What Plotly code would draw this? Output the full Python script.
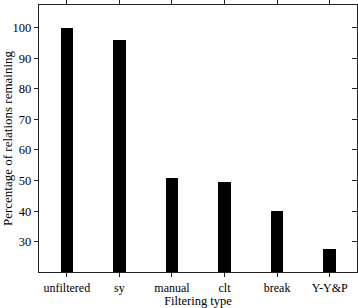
import plotly.graph_objects as go

categories = ["unfiltered", "sy", "manual", "clt", "break", "Y-Y&P"]
values = [100.0, 95.8, 50.7, 49.4, 40.0, 27.5]
y_ticks = [30, 40, 50, 60, 70, 80, 90, 100]

FONT = "Liberation Serif"
AX = "#222222"

fig = go.Figure()
fig.add_trace(go.Bar(x=categories, y=values, marker=dict(color="black", line=dict(width=0)),
                     width=0.24, showlegend=False))
# helper trace for the right-hand axis (inside ticks)
fig.add_trace(go.Scatter(x=categories, y=values, yaxis="y2", mode="lines",
                         line=dict(width=0, color="rgba(0,0,0,0)"), hoverinfo="skip",
                         showlegend=False))

yr = [20.1, 107.4]
fig.update_layout(
    template="none",
    width=358, height=308,
    margin=dict(l=39, r=1, t=5, b=36, autoexpand=False),
    paper_bgcolor="white", plot_bgcolor="white",
    font=dict(family=FONT, size=12, color="black"),
    xaxis=dict(
        type="category", range=[-0.53, 5.52], automargin=False,
        showline=True, linecolor=AX, linewidth=1.2, mirror="ticks",
        ticks="outside", ticklen=4, tickcolor=AX, tickwidth=1,
        showgrid=False, zeroline=False,
        tickfont=dict(family=FONT, size=12, color="black"),
        title=dict(text="Filtering type", font=dict(family=FONT, size=12.5, color="black"), standoff=4),
    ),
    yaxis=dict(
        range=yr, tickvals=y_ticks, automargin=False,
        showline=True, linecolor=AX, linewidth=1.2,
        ticks="outside", ticklen=4, tickcolor=AX, tickwidth=1,
        showgrid=False, zeroline=False,
        tickfont=dict(family=FONT, size=12.5, color="black"),
        title=dict(text="Percentage of relations remaining",
                   font=dict(family=FONT, size=13, color="black"), standoff=5),
    ),
    yaxis2=dict(
        range=yr, tickvals=y_ticks, overlaying="y", side="right", automargin=False,
        showline=True, linecolor=AX, linewidth=1.2,
        ticks="inside", ticklen=5, tickcolor=AX, tickwidth=1,
        showticklabels=False, showgrid=False, zeroline=False,
    ),
    bargap=0,
)

fig.write_html("out.html", config={"displayModeBar": False, "staticPlot": True},
               post_script="document.body.style.margin='0';document.body.style.padding='0';")
